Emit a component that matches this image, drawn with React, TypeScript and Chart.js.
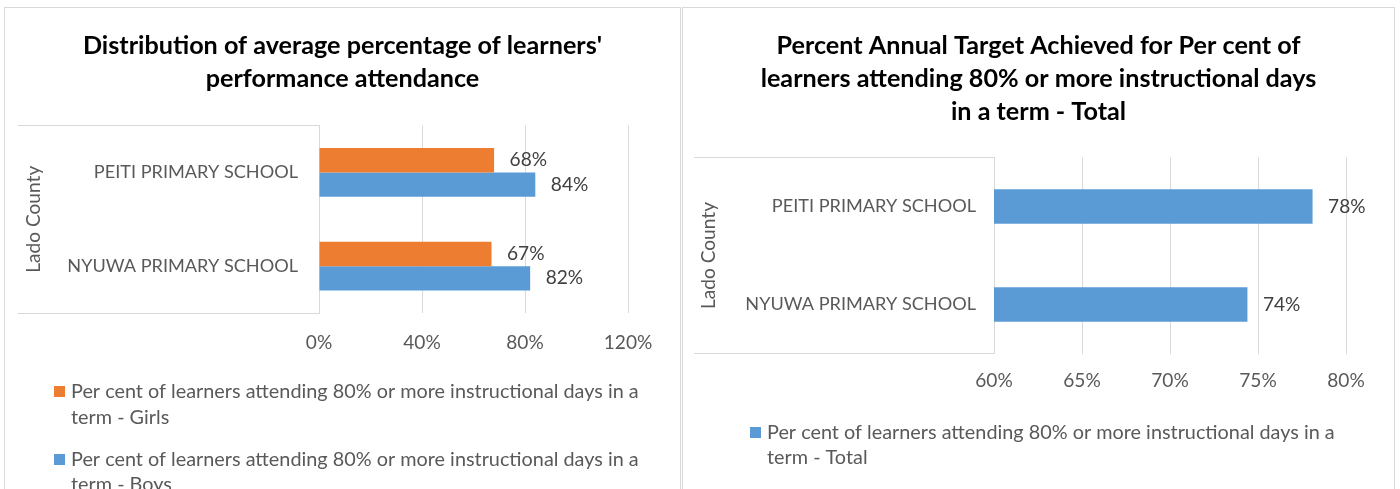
import React, { useEffect, useRef } from 'react';
import { Chart, registerables } from 'chart.js';

Chart.register(...registerables);

// ---------------- data ----------------
const schools = ['PEITI PRIMARY SCHOOL', 'NYUWA PRIMARY SCHOOL'];
const countyLabel = 'Lado County';
const girlsSeriesLabel = 'Per cent of learners attending 80% or more instructional days in a term - Girls';
const boysSeriesLabel = 'Per cent of learners attending 80% or more instructional days in a term - Boys';
const totalSeriesLabel = 'Per cent of learners attending 80% or more instructional days in a term - Total';
const girlsPercent = [68, 67];
const boysPercent = [84, 82];
const totalPercent = [78.1, 74.4];
const leftTicks = [0, 40, 80, 120];
const rightTicks = [60, 65, 70, 75, 80];
const leftTitleLines = ["Distribution of average percentage of learners'", 'performance attendance'];
const rightTitleLines = [
  'Percent Annual Target Achieved for Per cent of',
  'learners attending 80% or more instructional days',
  'in a term - Total',
];

// ---------------- styles ----------------
const FONT = 'Lato, "Open Sans", "Noto Sans", sans-serif';
const ORANGE = '#ED7D31';
const BLUE = '#5B9BD5';
const GRID = '#D9D9D9';
const AXIS_TEXT = '#595959';
const VALUE_TEXT = '#404040';

function fitSize(sample: string, target: number, weight = 'normal') {
  const ctx = document.createElement('canvas').getContext('2d')!;
  ctx.font = `${weight} 100px ${FONT}`;
  return (100 * target) / ctx.measureText(sample).width;
}

function wrapText(ctx: CanvasRenderingContext2D, text: string, maxWidth: number) {
  const words = text.split(' ');
  const lines: string[] = [];
  let cur = '';
  for (const w of words) {
    const cand = cur ? cur + ' ' + w : w;
    if (cur && ctx.measureText(cand).width > maxWidth) {
      lines.push(cur);
      cur = w;
    } else cur = cand;
  }
  if (cur) lines.push(cur);
  return lines;
}

const barValuesPlugin = {
  id: 'barValues',
  afterDatasetsDraw(chart: any, _a: any, opts: any) {
    const ctx = chart.ctx as CanvasRenderingContext2D;
    ctx.save();
    ctx.font = `${opts.size}px ${FONT}`;
    ctx.fillStyle = opts.color;
    ctx.textAlign = 'left';
    ctx.textBaseline = 'middle';
    chart.data.datasets.forEach((ds: any, di: number) => {
      const meta = chart.getDatasetMeta(di);
      meta.data.forEach((bar: any, i: number) => {
        const v = ds.data[i] as number;
        ctx.fillText(`${Math.round(v)}%`, bar.x + opts.offset, bar.y);
      });
    });
    ctx.restore();
  },
};

const categoryBoxPlugin = {
  id: 'categoryBox',
  beforeDatasetsDraw(chart: any, _a: any, opts: any) {
    const ctx = chart.ctx as CanvasRenderingContext2D;
    const area = chart.chartArea;
    ctx.save();
    ctx.strokeStyle = opts.color;
    ctx.lineWidth = 1;
    ctx.beginPath();
    for (const y of [area.top, area.bottom]) {
      const py = Math.floor(y) + 0.5;
      ctx.moveTo(opts.start, py);
      ctx.lineTo(area.left + 0.5, py);
    }
    ctx.stroke();
    ctx.restore();
  },
};

const wrapLegendPlugin = {
  id: 'wrapLegend',
  afterDraw(chart: any, _a: any, opts: any) {
    const ctx = chart.ctx as CanvasRenderingContext2D;
    const area = chart.chartArea;
    ctx.save();
    ctx.font = `${opts.size}px ${FONT}`;
    ctx.textAlign = 'left';
    ctx.textBaseline = 'alphabetic';
    const items = chart.data.datasets.map((ds: any) => ({
      color: ds.backgroundColor,
      lines: wrapText(ctx, ds.label, opts.maxWidth),
    }));
    let textW = 0;
    items.forEach((it: any) => it.lines.forEach((l: string) => (textW = Math.max(textW, ctx.measureText(l).width))));
    const blockW = opts.box + opts.gap + textW;
    const x0 = Math.round((chart.width - blockW) / 2 + opts.shift);
    let base = area.bottom + opts.firstBaseline;
    items.forEach((it: any) => {
      ctx.fillStyle = it.color;
      ctx.fillRect(x0, Math.round(base) - 12, opts.box, opts.box);
      ctx.fillStyle = opts.color;
      it.lines.forEach((l: string, i: number) => ctx.fillText(l, x0 + opts.box + opts.gap, base + i * opts.lineHeight));
      base += (it.lines.length - 1) * opts.lineHeight + opts.itemGap;
    });
    ctx.restore();
  },
};

type Geo = {
  width: number;
  height: number;
  yWidth: number;
  boxStart: number;
  padRight: number;
  titleFirst: number;
  titleLine: number;
  areaTop: number;
  areaBottom: number;
  xTickOffset: number;
  countyX: number;
  catPad: number;
  catPct: number;
  legendFirstBaseline: number;
};

const X_HEIGHT = 40;

function buildChart(canvas: HTMLCanvasElement, datasets: any[], ticks: number[], titleLines: string[], geo: Geo) {
  const sizes = {
    title: fitSize(rightTitleLines[1], 556, 'bold'),
    legend: fitSize(girlsSeriesLabel.slice(0, girlsSeriesLabel.indexOf(' term')), 568),
    category: fitSize(schools[1], 231),
    number: fitSize('68%', 37.5),
    county: fitSize(countyLabel, 107),
  };
  const titleTop = geo.titleFirst - geo.titleLine / 2;
  const titleBottom = geo.areaTop - titleTop - titleLines.length * geo.titleLine;
  return new Chart(canvas, {
    type: 'bar',
    data: { labels: schools, datasets },
    options: {
      indexAxis: 'y',
      animation: false,
      responsive: false,
      maintainAspectRatio: false,
      events: [],
      layout: { padding: { left: 0, right: 0, top: 0, bottom: geo.height - geo.areaBottom - X_HEIGHT } },
      datasets: { bar: { categoryPercentage: geo.catPct, barPercentage: 1 } },
      scales: {
        x: {
          type: 'linear',
          position: 'bottom',
          min: ticks[0],
          max: ticks[ticks.length - 1],
          ticks: {
            stepSize: ticks[1] - ticks[0],
            callback: (v: any) => `${v}%`,
            color: AXIS_TEXT,
            font: { family: FONT, size: sizes.number, lineHeight: 1 },
            padding: geo.xTickOffset - sizes.number / 2,
            maxRotation: 0,
            autoSkip: false,
          },
          grid: { color: GRID, lineWidth: 1, drawTicks: false },
          border: { display: false },
          afterFit: (s: any) => {
            s.height = X_HEIGHT;
            s.paddingLeft = 0;
            s.paddingRight = geo.padRight;
          },
        },
        y: {
          type: 'category',
          ticks: {
            color: AXIS_TEXT,
            font: { family: FONT, size: sizes.category, lineHeight: 1 },
            padding: geo.catPad,
            autoSkip: false,
          },
          grid: { display: false, drawTicks: false },
          border: { display: true, color: GRID, width: 1 },
          title: {
            display: true,
            text: countyLabel,
            color: AXIS_TEXT,
            font: { family: FONT, size: sizes.county, lineHeight: 1 },
            padding: { top: geo.countyX - sizes.county / 2, bottom: 0 },
          },
          afterFit: (s: any) => {
            s.width = geo.yWidth;
            s.paddingTop = 0;
            s.paddingBottom = 0;
          },
        },
      },
      plugins: {
        legend: { display: false },
        tooltip: { enabled: false },
        title: {
          display: true,
          text: titleLines,
          color: '#000000',
          font: { family: FONT, size: sizes.title, weight: 'bold', lineHeight: `${geo.titleLine}px` },
          padding: { top: titleTop, bottom: titleBottom },
        },
        barValues: { size: sizes.number, color: VALUE_TEXT, offset: 15.5 },
        categoryBox: { color: GRID, start: geo.boxStart },
        wrapLegend: {
          size: sizes.legend,
          color: AXIS_TEXT,
          maxWidth: 575,
          box: 11,
          gap: 6,
          shift: 4,
          firstBaseline: geo.legendFirstBaseline,
          lineHeight: 25.5,
          itemGap: 42.2,
        },
      } as any,
    },
    plugins: [barValuesPlugin, categoryBoxPlugin, wrapLegendPlugin],
  } as any);
}

const leftGeo: Geo = {
  width: 675,
  height: 481,
  yWidth: 314,
  boxStart: 13,
  padRight: 52,
  titleFirst: 37.5,
  titleLine: 33.5,
  areaTop: 117.5,
  areaBottom: 305,
  xTickOffset: 29.5,
  countyX: 28.6,
  catPad: 21,
  catPct: 0.52,
  legendFirstBaseline: 85,
};

const rightGeo: Geo = {
  width: 711,
  height: 481,
  yWidth: 311,
  boxStart: 11,
  padRight: 48,
  titleFirst: 38,
  titleLine: 33,
  areaTop: 149.5,
  areaBottom: 345.5,
  xTickOffset: 27.5,
  countyX: 25.6,
  catPad: 18,
  catPct: 0.352,
  legendFirstBaseline: 85,
};

function Panel({ left, geo, make }: { left: number; geo: Geo; make: (c: HTMLCanvasElement) => Chart }) {
  const ref = useRef<HTMLCanvasElement>(null);
  useEffect(() => {
    const chart = make(ref.current!);
    return () => chart.destroy();
  }, []);
  return (
    <div
      style={{
        position: 'absolute',
        left,
        top: 7,
        width: geo.width + 2,
        height: 600,
        border: `1px solid ${GRID}`,
        boxSizing: 'border-box',
        background: '#ffffff',
      }}
    >
      <canvas
        ref={ref}
        width={geo.width}
        height={geo.height}
        style={{ position: 'absolute', left: 0, top: 0, width: geo.width, height: geo.height, display: 'block' }}
      />
    </div>
  );
}

export default function App() {
  return (
    <div style={{ position: 'fixed', left: 0, top: 0, width: 1400, height: 489, overflow: 'hidden', background: '#ffffff' }}>
      <Panel
        left={4}
        geo={leftGeo}
        make={(c) =>
          buildChart(
            c,
            [
              { label: girlsSeriesLabel, data: girlsPercent, backgroundColor: ORANGE },
              { label: boysSeriesLabel, data: boysPercent, backgroundColor: BLUE },
            ],
            leftTicks,
            leftTitleLines,
            leftGeo
          )
        }
      />
      <Panel
        left={682}
        geo={rightGeo}
        make={(c) =>
          buildChart(
            c,
            [{ label: totalSeriesLabel, data: totalPercent, backgroundColor: BLUE }],
            rightTicks,
            rightTitleLines,
            rightGeo
          )
        }
      />
    </div>
  );
}
